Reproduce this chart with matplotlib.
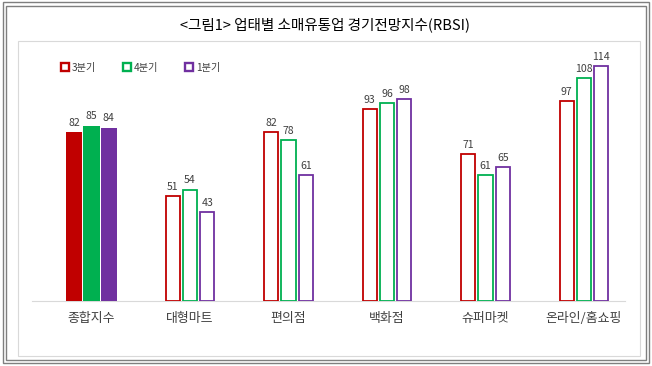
import matplotlib
matplotlib.use('Agg')
import matplotlib.pyplot as plt
from matplotlib.patches import Rectangle
from matplotlib.lines import Line2D
import numpy as np

title = '<그림1> 업태별 소매유통업 경기전망지수(RBSI)'
categories = ['종합지수', '대형마트', '편의점', '백화점', '슈퍼마켓', '온라인/홈쇼핑']
series_names = ['3분기', '4분기', '1분기']
q3 = [82, 51, 82, 93, 71, 97]
q4 = [85, 54, 78, 96, 61, 108]
q1 = [84, 43, 61, 98, 65, 114]
series = [q3, q4, q1]
colors = ['#C00000', '#00B050', '#7030A0']

plt.rcParams['font.family'] = ['Noto Sans CJK KR', 'DejaVu Sans']

W, H = 652, 366
fig = plt.figure(figsize=(W / 100, H / 100), dpi=100)


def fx(x):
    return x / W


def fy(y):
    return 1 - y / H


# outer double frame
for (x0, y0, x1, y1) in [(2.5, 2.5, 648.5, 362.5), (5.5, 5.5, 645.5, 359.5)]:
    fig.patches.append(Rectangle((fx(x0), fy(y1)), fx(x1) - fx(x0), fy(y0) - fy(y1),
                                 transform=fig.transFigure, fill=False,
                                 edgecolor='#7f7f7f', linewidth=1.0))
# inner chart panel
fig.patches.append(Rectangle((fx(18), fy(356)), fx(640) - fx(18), fy(41) - fy(356),
                             transform=fig.transFigure, fill=False,
                             edgecolor='#d9d9d9', linewidth=0.8))

fig.text(fx(325.5), fy(25), title, ha='center', va='center', fontsize=10.5,
         color='#000000', fontweight='medium')

ax = fig.add_axes([fx(32), fy(301), fx(625) - fx(32), fy(42) - fy(301)])
ax.set_xlim(-0.604, 5.416)
ax.set_ylim(0, 125.5)

x = np.arange(len(categories))
offset = 0.176
for i, (vals, c) in enumerate(zip(series, colors)):
    pos = x + (i - 1) * offset
    faces = [c] + ['white'] * (len(categories) - 1)
    widths = [0.163] + [0.143] * (len(categories) - 1)
    lws = [0] + [1.3] * (len(categories) - 1)
    ax.bar(pos, vals, width=widths, color=faces, edgecolor=c, linewidth=lws, zorder=3)
    for p, v in zip(pos, vals):
        ax.annotate(str(v), (p, v), xytext=(0, 3), textcoords='offset points',
                    ha='center', va='bottom', fontsize=7.6, color='#404040')

for s in ['top', 'left', 'right']:
    ax.spines[s].set_visible(False)
ax.spines['bottom'].set_color('#d9d9d9')
ax.spines['bottom'].set_linewidth(0.8)
ax.set_yticks([])
ax.set_xticks(x)
ax.set_xticklabels(categories, fontsize=9.3, color='#404040')
ax.tick_params(axis='x', length=0, pad=8)
ax.patch.set_alpha(0)

handles = [Line2D([], [], marker='s', linestyle='none', markerfacecolor='white',
                  markeredgecolor=c, markeredgewidth=1.7, markersize=5.5) for c in colors]
fig.legend(handles, series_names, ncol=3, loc='center left',
           bbox_to_anchor=(fx(61), fy(68)), frameon=False, fontsize=7.3,
           handlelength=0.8, handletextpad=0.3, columnspacing=2.6,
           borderaxespad=0, borderpad=0, labelcolor='#404040')

fig.savefig('out.png', dpi=100)
